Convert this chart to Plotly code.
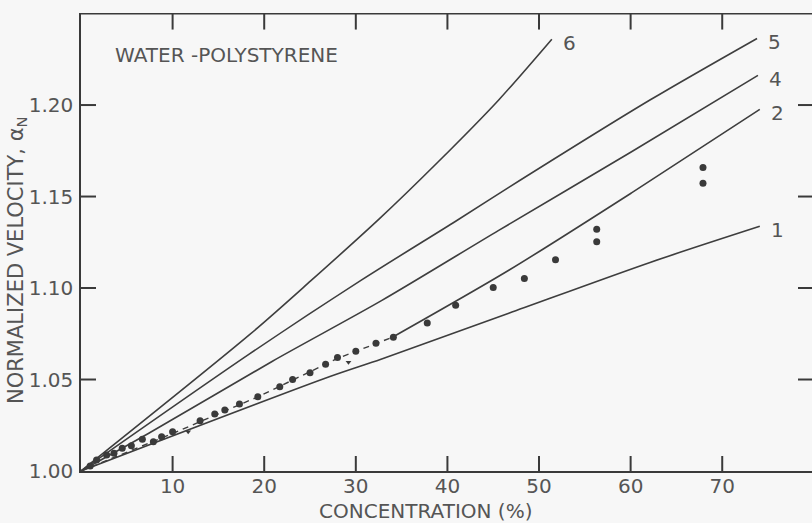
import plotly.graph_objects as go

# Theoretical curves (concentration %, normalized velocity)
curve6_x = [0, 18.4, 25.1, 32.5, 39.0, 45.6, 51.4]
curve6_y = [1.0, 1.0745, 1.1040, 1.1375, 1.1690, 1.2028, 1.2360]

curve5_x = [0, 18.4, 30.6, 40.9, 46.7, 62.2, 73.8]
curve5_y = [1.0, 1.0640, 1.1043, 1.1365, 1.1550, 1.2030, 1.2364]

curve4_x = [0, 7.4, 20.9, 32.8, 45.6, 60.1, 73.9]
curve4_y = [1.0, 1.0206, 1.0600, 1.0931, 1.1315, 1.1745, 1.2162]

curve2_x = [34.0, 46.7, 60.1, 74.1]
curve2_y = [1.0731, 1.1097, 1.1520, 1.1976]

# low-concentration part of curve 2, drawn dashed
curve2_low_x = [0, 10, 19.3, 28, 34.0]
curve2_low_y = [1.0, 1.0205, 1.0405, 1.0615, 1.0731]

curve1_x = [0, 27.1, 32.75, 46.7, 62.2, 74.1]
curve1_y = [1.0, 1.0515, 1.0611, 1.0862, 1.1141, 1.1337]

# Measured points
meas_x = [1.0, 1.7, 2.8, 3.6, 4.5, 5.5, 6.7, 7.9, 8.8, 10.0, 13.0, 14.6, 15.7,
          17.3, 19.3, 21.7, 23.1, 25.0, 26.7, 28.0, 30.0, 32.2, 34.1, 37.8,
          40.9, 45.0, 48.4, 51.8, 56.3, 56.3, 67.9, 67.9]
meas_y = [1.0027, 1.0060, 1.0087, 1.0097, 1.0124, 1.0138, 1.0173, 1.0160,
          1.0187, 1.0215, 1.0275, 1.0311, 1.0333, 1.0366, 1.0406, 1.0460,
          1.0500, 1.0537, 1.0584, 1.0620, 1.0655, 1.0698, 1.0731, 1.0809,
          1.0906, 1.1003, 1.1052, 1.1155, 1.1253, 1.1321, 1.1572, 1.1659]

# second set of measurements (small triangles)
meas2_x = [11.7, 29.2]
meas2_y = [1.0215, 1.0594]

x_ticks = [10, 20, 30, 40, 50, 60, 70]
x_tick_text = ["10", "20", "30", "40", "50", "60", "70"]
y_ticks = [1.00, 1.05, 1.10, 1.15, 1.20]
y_tick_text = ["1.00", "1.05", "1.10", "1.15", "1.20"]
right_ticks = [1.05, 1.10, 1.15, 1.20]

curve_labels = ["6", "5", "4", "2", "1"]

INK = "#3e3e3e"
TEXT = "#555555"
AXIS = "#3a3a3a"
BG = "#f7f7f7"
FONT = "DejaVu Sans"

W, H = 812, 523
M = dict(l=81, r=0, t=13, b=52)
X_RANGE = [0, 79.8]
Y_RANGE = [1.0, 1.2503]
PLOT_W = W - M["l"] - M["r"]
PLOT_H = H - M["t"] - M["b"]
# data units per pixel on each axis
DX = (X_RANGE[1] - X_RANGE[0]) / PLOT_W
DY = (Y_RANGE[1] - Y_RANGE[0]) / PLOT_H
TICK_LEN = 15
Y_TOP = 1.25

fig = go.Figure()

curves = [(curve6_x, curve6_y), (curve5_x, curve5_y), (curve4_x, curve4_y),
          (curve2_x, curve2_y), (curve1_x, curve1_y)]
for cx, cy in curves:
    fig.add_trace(go.Scatter(x=cx, y=cy, mode="lines",
                             line=dict(color=INK, width=1.6, shape="spline",
                                       smoothing=0.8),
                             hoverinfo="skip", showlegend=False))

fig.add_trace(go.Scatter(x=curve2_low_x, y=curve2_low_y, mode="lines",
                         line=dict(color=INK, width=1.4, dash="6px,5px"),
                         hoverinfo="skip", showlegend=False))

fig.add_trace(go.Scatter(x=meas_x, y=meas_y, mode="markers",
                         marker=dict(symbol="circle", size=7, color="#3a3a3a"),
                         showlegend=False))
fig.add_trace(go.Scatter(x=meas2_x, y=meas2_y, mode="markers",
                         marker=dict(symbol="triangle-down", size=5, color="#3a3a3a"),
                         showlegend=False))

# frame: top border and inward tick marks on all four sides, built from the
# tick value lists (segments separated by None)
fx, fy = [X_RANGE[0], X_RANGE[1], None], [Y_TOP, Y_TOP, None]
for v in x_ticks:
    fx += [v, v, None, v, v, None]
    fy += [Y_RANGE[0], Y_RANGE[0] + TICK_LEN * DY, None,
           Y_TOP, Y_TOP - (TICK_LEN + 1) * DY, None]
for v in y_ticks[1:]:
    fx += [X_RANGE[0], X_RANGE[0] + TICK_LEN * DX, None]
    fy += [v, v, None]
for v in right_ticks:
    fx += [X_RANGE[1], X_RANGE[1] - (TICK_LEN - 1) * DX, None]
    fy += [v, v, None]
fig.add_trace(go.Scatter(x=fx, y=fy, mode="lines", connectgaps=False,
                         line=dict(color=AXIS, width=2), cliponaxis=False,
                         hoverinfo="skip", showlegend=False))

# curve numbers next to the line ends
for lab, (cx, cy) in zip(curve_labels, curves):
    fig.add_annotation(x=cx[-1], y=cy[-1], text=lab, showarrow=False,
                       xanchor="left", yanchor="middle", xshift=9, yshift=-4,
                       font=dict(family=FONT, size=20, color=TEXT))

fig.update_layout(
    width=W, height=H,
    margin=M,
    paper_bgcolor=BG, plot_bgcolor=BG,
    showlegend=False,
    xaxis=dict(range=X_RANGE, tickmode="array", tickvals=x_ticks,
               ticktext=x_tick_text,
               showgrid=False, zeroline=False, showline=True,
               linecolor=AXIS, linewidth=1.5, ticks="",
               ticklabelstandoff=-4,
               tickfont=dict(family=FONT, size=20, color=TEXT)),
    yaxis=dict(range=Y_RANGE, tickmode="array", tickvals=y_ticks,
               ticktext=y_tick_text,
               showgrid=False, zeroline=False, showline=True,
               linecolor=AXIS, linewidth=1.5, ticks="",
               ticklabelstandoff=2,
               tickfont=dict(family=FONT, size=20, color=TEXT)),
    annotations=list(fig.layout.annotations) + [
        dict(text="WATER -POLYSTYRENE", xref="paper", yref="paper",
             x=0.044, y=0.908, xanchor="left", yanchor="middle",
             showarrow=False, font=dict(family=FONT, size=20, color=TEXT)),
        dict(text="CONCENTRATION (%)", xref="paper", yref="paper",
             x=0.4706, y=-0.087, xanchor="center", yanchor="middle",
             showarrow=False, font=dict(family=FONT, size=20, color=TEXT)),
        dict(text="NORMALIZED VELOCITY, α<sub>N</sub>", xref="paper", yref="paper",
             x=-0.0876, y=0.4607, xanchor="center", yanchor="middle",
             textangle=-90, showarrow=False,
             font=dict(family=FONT, size=21, color=TEXT)),
    ],
)

fig.write_html("out.html")
